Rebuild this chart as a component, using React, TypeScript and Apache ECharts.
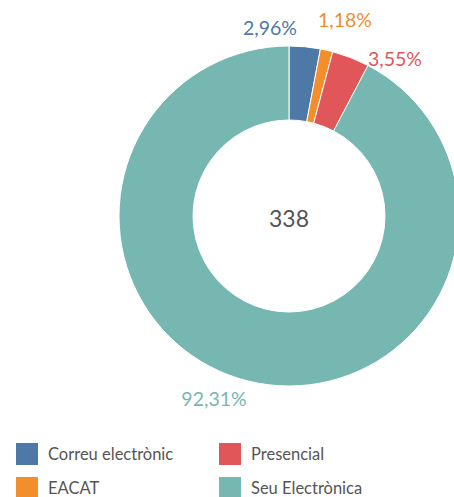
import React, { useEffect, useRef } from "react";
import * as echarts from "echarts";

const categories = ["Correu electrònic", "EACAT", "Presencial", "Seu Electrònica"];
const values = [10, 4, 12, 312];
const percentLabels = ["2,96%", "1,18%", "3,55%", "92,31%"];
const colors = ["#4E79A7", "#F28E2B", "#E15759", "#76B7B2"];
const labelPositions = [
  [270, 27],
  [345, 19],
  [395, 58],
  [214, 398],
];
const legendSlots = [
  [14, 441],
  [14, 475],
  [217, 441],
  [217, 475],
];

export default function App() {
  const ref = useRef<HTMLDivElement>(null);
  useEffect(() => {
    if (!ref.current) return;
    const chart = echarts.init(ref.current, null, { renderer: "svg" });
    const total = values.reduce((a, b) => a + b, 0);
    const font = "Lato, 'Noto Sans', sans-serif";
    chart.setOption({
      animation: false,
      color: colors,
      legend: categories.map((c, i) => ({
        orient: "horizontal",
        left: legendSlots[i][0],
        top: legendSlots[i][1],
        itemWidth: 24,
        itemHeight: 24,
        padding: 0,
        icon: "rect",
        selectedMode: false,
        data: [c],
        textStyle: { color: "#555", fontSize: 16.5, fontFamily: font, padding: [0, 0, 0, 4] },
      })),
      graphic: [
        {
          type: "text",
          x: 289,
          y: 218,
          style: {
            text: String(total),
            fill: "#555",
            fontSize: 23,
            fontFamily: font,
            textAlign: "center",
            textVerticalAlign: "middle",
          },
        },
      ],
      series: [
        {
          type: "pie",
          center: [289, 216],
          radius: [96, 170],
          startAngle: 90,
          clockwise: true,
          avoidLabelOverlap: false,
          itemStyle: { borderColor: "#fff", borderWidth: 1 },
          label: {
            show: true,
            position: "outside",
            fontSize: 19.5,
            fontFamily: font,
            formatter: (p: any) => percentLabels[p.dataIndex],
          },
          labelLine: { show: false },
          labelLayout: (p: any) => ({
            x: labelPositions[p.dataIndex][0],
            y: labelPositions[p.dataIndex][1],
            align: "center",
            verticalAlign: "middle",
          }),
          emphasis: { disabled: true },
          data: categories.map((c, i) => ({
            name: c,
            value: values[i],
            label: { color: colors[i] },
          })),
        },
      ],
    });
    return () => chart.dispose();
  }, []);
  return (
    <div
      ref={ref}
      style={{ position: "fixed", left: 0, top: 0, width: 454, height: 497, background: "#fff" }}
    />
  );
}
